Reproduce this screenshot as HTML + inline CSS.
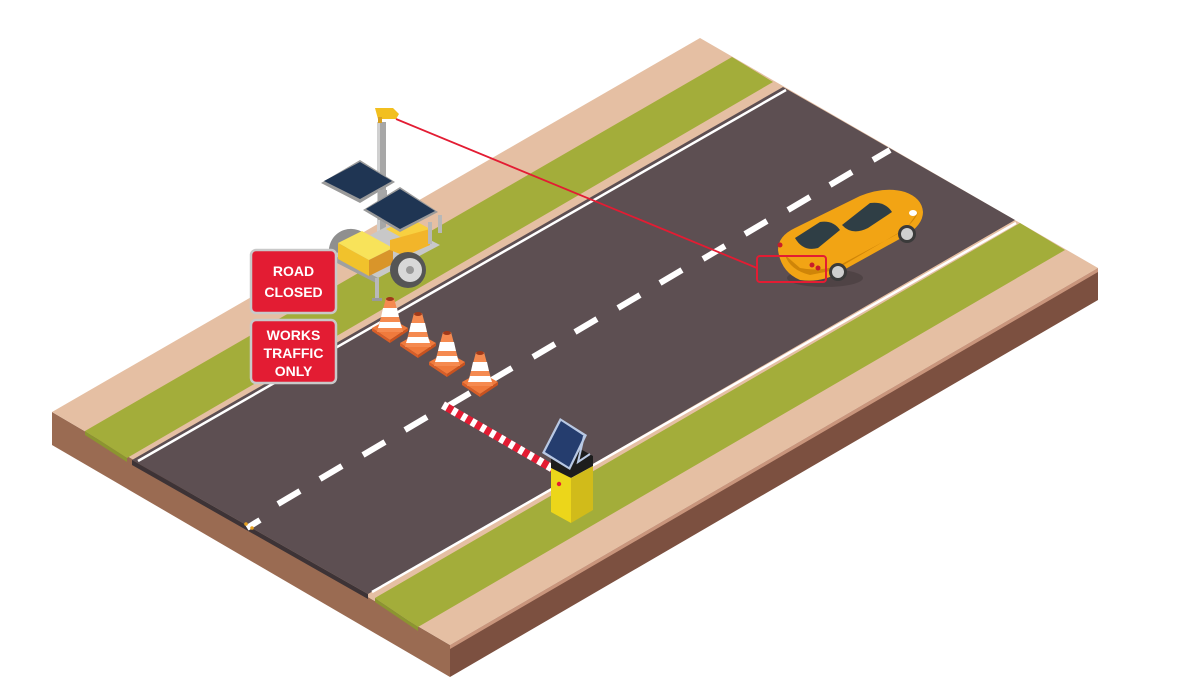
<!DOCTYPE html>
<html><head><meta charset="utf-8"><style>
html,body{margin:0;padding:0;background:#fff;width:1200px;height:700px;overflow:hidden}
svg{display:block}
text{font-family:"Liberation Sans",sans-serif;font-weight:bold}
</style></head><body>
<svg width="1200" height="700" viewBox="0 0 1200 700" xmlns="http://www.w3.org/2000/svg">
<polygon points="52,412 450,645 450,677 52,445" fill="#9a6b52"/>
<polygon points="450,645 1098,268 1098,300 450,677" fill="#7c5040"/>
<polygon points="450,645 1098,268 1098,272 450,649" fill="#c9957c"/>
<polygon points="52,412 700,38 1098,268 450,645" fill="#e5bfa3"/>
<polygon points="85,431 732,57 773,82 127,458" fill="#a3ad3a"/>
<polygon points="85,431 127,458 127,462 85,435" fill="#8c9530"/>
<polygon points="375,598 1020,223 1065,250 418,627" fill="#a3ad3a"/>
<polygon points="375,598 418,627 418,631 375,602" fill="#8c9530"/>
<polygon points="132,460 783,87 1015,220 368,594" fill="#5d4f52"/>
<polygon points="132,460 368,594 368,599 132,465" fill="#3d3336"/>
<line x1="138" y1="461" x2="786" y2="90" stroke="#fff" stroke-width="2.5"/>
<line x1="372" y1="592" x2="1016" y2="223" stroke="#fff" stroke-width="2.5"/>
<g stroke="#fff" stroke-width="6">
<line x1="247" y1="528" x2="260" y2="520"/>
<line x1="278" y1="504" x2="300" y2="491"/>
<line x1="320" y1="479" x2="342" y2="466"/>
<line x1="363" y1="455" x2="385" y2="442"/>
<line x1="405" y1="430" x2="427" y2="417"/>
<line x1="448" y1="406" x2="470" y2="393"/>
<line x1="490" y1="381" x2="512" y2="368"/>
<line x1="533" y1="357" x2="555" y2="344"/>
<line x1="575" y1="332" x2="597" y2="319"/>
<line x1="618" y1="308" x2="640" y2="295"/>
<line x1="660" y1="283" x2="682" y2="270"/>
<line x1="703" y1="259" x2="725" y2="246"/>
<line x1="745" y1="234" x2="767" y2="221"/>
<line x1="788" y1="210" x2="810" y2="197"/>
<line x1="830" y1="185" x2="852" y2="172"/>
<line x1="873" y1="160" x2="890" y2="150"/>
</g>
<circle cx="246" cy="524" r="1.8" fill="#e6a020"/><circle cx="252" cy="528" r="1.8" fill="#e6a020"/>

<g>
<rect x="377" y="122" width="9" height="120" fill="#a7a7a7"/>
<rect x="377" y="122" width="3" height="120" fill="#d0d0d0"/>
<path d="M375,108 L393,108 L399,114 L396,119 L378,119 Z" fill="#f2bf1f"/>
<rect x="378" y="117" width="4" height="6" fill="#d8a020"/>
<polygon points="321,183 360,160 395,182 360,203" fill="#9a9a9a"/>
<polygon points="324,181 360,162 392,181 360,199" fill="#1f3553"/>
<rect x="378" y="190" width="9" height="30" fill="#a7a7a7"/>
<path d="M330,258 A22,22 0 0 1 372,244 L372,262 Z" fill="#8f8f8f"/>
<polygon points="333,255 395,222 440,245 378,278" fill="#c8c8c8"/>
<polygon points="333,255 378,278 378,284 333,261" fill="#a0a0a0"/>
<polygon points="338,243 362,231 393,248 369,260" fill="#f8e35a"/>
<polygon points="338,243 369,260 369,276 338,259" fill="#f1c22c"/>
<polygon points="369,260 393,248 393,264 369,276" fill="#d9952a"/>
<polygon points="386,229 410,218 430,229 406,240" fill="#f8d040"/>
<polygon points="390,240 430,229 430,245 405,256 390,250" fill="#f2b52a"/>
<circle cx="408" cy="270" r="18" fill="#555"/>
<circle cx="410" cy="270" r="12" fill="#d8d8d8"/>
<circle cx="410" cy="270" r="4" fill="#999"/>
<polygon points="363,210 400,187 438,212 400,232" fill="#9a9a9a"/>
<polygon points="366,209 400,189 435,211 400,229" fill="#1f3553"/>
<rect x="375" y="278" width="4" height="22" fill="#b8b8b8"/>
<rect x="372" y="298" width="10" height="3" fill="#999"/>
<rect x="428" y="222" width="4" height="22" fill="#b8b8b8"/>
<rect x="438" y="215" width="4" height="18" fill="#b8b8b8"/>
</g>

<rect x="251" y="250" width="85" height="63" rx="5" fill="#e31c33" stroke="#c9c9c9" stroke-width="2.5"/>
<text x="293.5" y="276" font-size="14" fill="#fff" text-anchor="middle">ROAD</text>
<text x="293.5" y="297" font-size="14" fill="#fff" text-anchor="middle">CLOSED</text>
<rect x="251" y="320" width="85" height="63" rx="5" fill="#e31c33" stroke="#c9c9c9" stroke-width="2.5"/>
<text x="293.5" y="340" font-size="14" fill="#fff" text-anchor="middle">WORKS</text>
<text x="293.5" y="358" font-size="14" fill="#fff" text-anchor="middle">TRAFFIC</text>
<text x="293.5" y="376" font-size="14" fill="#fff" text-anchor="middle">ONLY</text>

<defs>
<g id="cone">
<polygon points="-18,30 0,20 18,30 0,42" fill="#f07a3c"/>
<polygon points="-18,30 0,42 0,45 -18,33" fill="#d85e28"/><polygon points="0,42 18,30 18,33 0,45" fill="#c9521f"/>
<polygon points="-4,0 4,0 13,34 -13,34" fill="#f58a50"/>
<polygon points="-7,10 7,10 9,19 -9,19" fill="#fff"/>
<polygon points="-10,24 10,24 12,30 -12,30" fill="#fff"/>
<ellipse cx="0" cy="1" rx="4" ry="2" fill="#a03a1a"/>
</g>
</defs>
<use href="#cone" transform="translate(390,298)"/>
<use href="#cone" transform="translate(418,313)"/>
<use href="#cone" transform="translate(447,332)"/>
<use href="#cone" transform="translate(480,352)"/>

<line x1="443" y1="405" x2="555" y2="470" stroke="#e31c33" stroke-width="8"/>
<line x1="443" y1="405" x2="555" y2="470" stroke="#fff" stroke-width="8" stroke-dasharray="5,6"/>
<polygon points="551,458 575,446 593,456 593,466 571,478 551,468" fill="#1d1d1d"/>
<polygon points="551,468 571,478 571,523 551,512" fill="#ecd61a"/>
<polygon points="571,478 593,466 593,510 571,523" fill="#d1bb1a"/>
<circle cx="559" cy="484" r="2.2" fill="#e31c33"/>
<polygon points="542,453 560,418 587,435 570,470" fill="#b9c9e4"/>
<polygon points="545,452 561,421 584,436 569,467" fill="#253d6e"/>
<polyline points="584,436 578,462 590,454" fill="none" stroke="#b9c9e4" stroke-width="2"/>

<g>
<ellipse cx="825" cy="278" rx="38" ry="9" fill="#4a3e40" opacity="0.7"/>
<path d="M778,250 Q778,236 795,228 L860,196 Q885,186 905,192 Q922,198 923,212 Q923,225 905,236 L840,272 Q822,283 800,280 Q781,272 778,250 Z" fill="#f2a414"/>
<path d="M785,255 Q790,270 810,275 L835,270 L900,232 Q915,222 918,212 L905,230 L840,265 Q820,272 800,268 Z" fill="#cf8508"/>
<path d="M795,238 L820,222 Q833,220 840,230 L818,248 Q803,252 795,238 Z" fill="#2f3e45"/>
<path d="M842,225 L870,203 Q885,201 892,212 L868,228 Q852,236 842,225 Z" fill="#2f3e45"/>
<circle cx="838" cy="272" r="9" fill="#3a3a3a"/><circle cx="838" cy="272" r="6" fill="#cfcfcf"/>
<circle cx="907" cy="234" r="9" fill="#3a3a3a"/><circle cx="907" cy="234" r="6" fill="#cfcfcf"/>
<circle cx="780" cy="245" r="2.5" fill="#c81d2a"/>
<circle cx="812" cy="265" r="2.5" fill="#c81d2a"/><circle cx="818" cy="268" r="2.5" fill="#c81d2a"/>
<ellipse cx="913" cy="213" rx="4" ry="3" fill="#fff"/>
</g>

<line x1="396" y1="119" x2="757" y2="268" stroke="#e31c33" stroke-width="1.8"/>
<rect x="757" y="256" width="69" height="26" rx="3" fill="none" stroke="#e31c33" stroke-width="2"/>
</svg>
</body></html>
